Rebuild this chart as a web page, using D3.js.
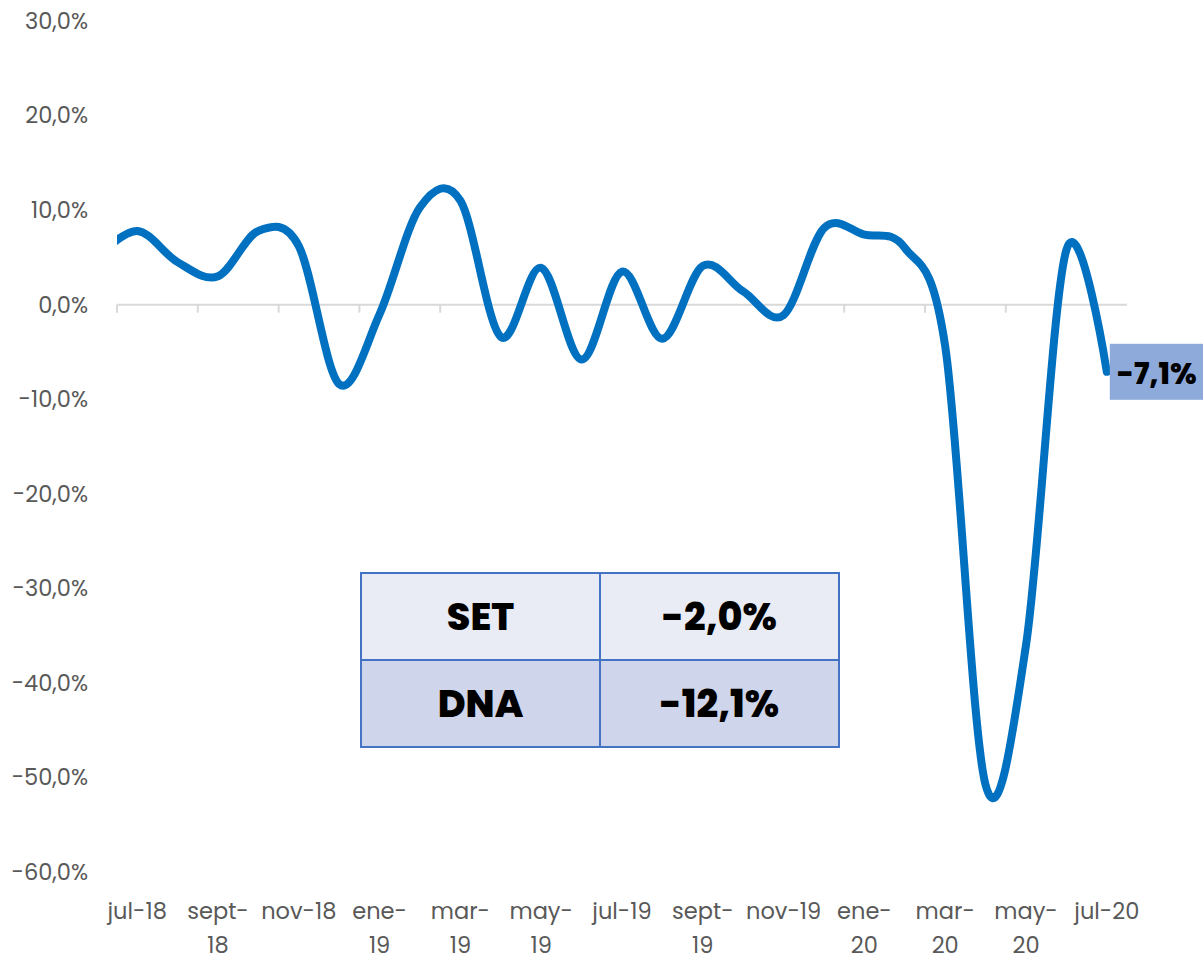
<!DOCTYPE html>
<html>
<head>
<meta charset="utf-8">
<script src="https://cdn.jsdelivr.net/npm/d3@7"></script>
<style>
  body { margin: 0; background: #fff; }
  svg { font-family: Poppins, Inter, "Noto Sans", sans-serif; }
</style>
</head>
<body>
<div id="canvas"></div>
<script>
// monthly values, jun-18 is only partly visible at the left edge
var months = ['jun-18','jul-18','ago-18','sept-18','oct-18','nov-18','dic-18','ene-19','feb-19','mar-19','abr-19','may-19','jun-19',
  'jul-19','ago-19','sept-19','oct-19','nov-19','dic-19','ene-20','feb-20','mar-20','abr-20','may-20','jun-20','jul-20'];
var values = [5.0, 7.8, 4.5, 3.0, 7.8, 6.2, -8.4, -1.0, 10.3, 11.0, -3.4, 3.9, -5.8,
  3.5, -3.6, 4.1, 1.4, -1.1, 8.1, 7.4, 6.0, -4.4, -50.8, -36.0, 5.8, -7.1];
var tickLabels = [['jul-18'],['sept-','18'],['nov-18'],['ene-','19'],['mar-','19'],['may-','19'],['jul-19'],
  ['sept-','19'],['nov-19'],['ene-','20'],['mar-','20'],['may-','20'],['jul-20']];
var yTicks = [30, 20, 10, 0, -10, -20, -30, -40, -50, -60];
var tableRows = [['SET','-2,0%'],['DNA','-12,1%']];
var lastLabel = '-7,1%';

var W = 1203, H = 958;
var svg = d3.select('#canvas').append('svg').attr('width', W).attr('height', H);

var loc = d3.formatLocale({decimal: ',', thousands: '.', grouping: [3], currency: ['', '€'], minus: '-'});
var fmt = loc.format('.1f');

// index 0 = jul-18
var x = d3.scaleLinear().domain([-0.5, 24.5]).range([117, 1127]);
var y = d3.scaleLinear().domain([-60, 30]).range([872, 21]);

// y labels
svg.selectAll('.ylab').data(yTicks).enter().append('text')
  .attr('x', 88).attr('y', function(d){ return y(d); })
  .attr('dy', '0.35em').attr('text-anchor', 'end')
  .attr('font-size', 22.5).attr('fill', '#595959')
  .text(function(d){ return fmt(d) + '%'; });

// zero axis + ticks
svg.append('line').attr('x1', x(-0.5)).attr('x2', x(24.5))
  .attr('y1', y(0)).attr('y2', y(0)).attr('stroke', '#d9d9d9').attr('stroke-width', 2);
svg.selectAll('.tick').data(d3.range(0, 24, 2)).enter().append('line')
  .attr('x1', function(d){ return x(d - 0.5); }).attr('x2', function(d){ return x(d - 0.5); })
  .attr('y1', y(0)).attr('y2', y(0) + 8).attr('stroke', '#d9d9d9').attr('stroke-width', 2);

// x labels
var xl = svg.selectAll('.xlab').data(tickLabels).enter().append('text')
  .attr('text-anchor', 'middle').attr('font-size', 22.5).attr('fill', '#595959')
  .attr('transform', function(d, i){ return 'translate(' + x(i * 2) + ',0)'; });
xl.selectAll('tspan').data(function(d){ return d; }).enter().append('tspan')
  .attr('x', 0).attr('y', function(d, j){ return 911 + j * 34; }).attr('dy', '0.35em')
  .text(function(d){ return d; });

// line
svg.append('clipPath').attr('id', 'clip').append('rect')
  .attr('x', x(-0.5)).attr('y', 0).attr('width', x(24.5) - x(-0.5) + 20).attr('height', H);
var line = d3.line()
  .x(function(d, i){ return x(i - 1); })
  .y(function(d){ return y(d); })
  .curve(d3.curveCardinal.tension(0));
svg.append('path').datum(values)
  .attr('clip-path', 'url(#clip)')
  .attr('d', line).attr('fill', 'none')
  .attr('stroke', '#0070c0').attr('stroke-width', 8).attr('stroke-linecap', 'round');

// end label
var lx = x(24), ly = y(values[values.length - 1]);
svg.append('rect').attr('x', lx + 3).attr('y', ly - 28).attr('width', W - lx - 3).attr('height', 56)
  .attr('fill', '#8eaadb');
svg.append('text').attr('x', lx + 50).attr('y', ly + 2).attr('dy', '0.35em')
  .attr('text-anchor', 'middle').attr('font-size', 29.5).attr('font-weight', 800)
  .text(lastLabel);

// table
var tx = 361, ty = 573, cw = 239, rh = 87;
var fills = ['#e9ebf5', '#cfd5ea'];
var tg = svg.append('g');
tableRows.forEach(function(r, i){
  r.forEach(function(c, j){
    tg.append('rect').attr('x', tx + j * cw).attr('y', ty + i * rh)
      .attr('width', cw).attr('height', rh)
      .attr('fill', fills[i]).attr('stroke', '#4472c4').attr('stroke-width', 2);
    tg.append('text').attr('x', tx + j * cw + cw / 2).attr('y', ty + i * rh + rh / 2)
      .attr('dy', '0.35em').attr('text-anchor', 'middle')
      .attr('font-size', 38).attr('font-weight', 800).attr('fill', '#000')
      .text(c);
  });
});
</script>
</body>
</html>
